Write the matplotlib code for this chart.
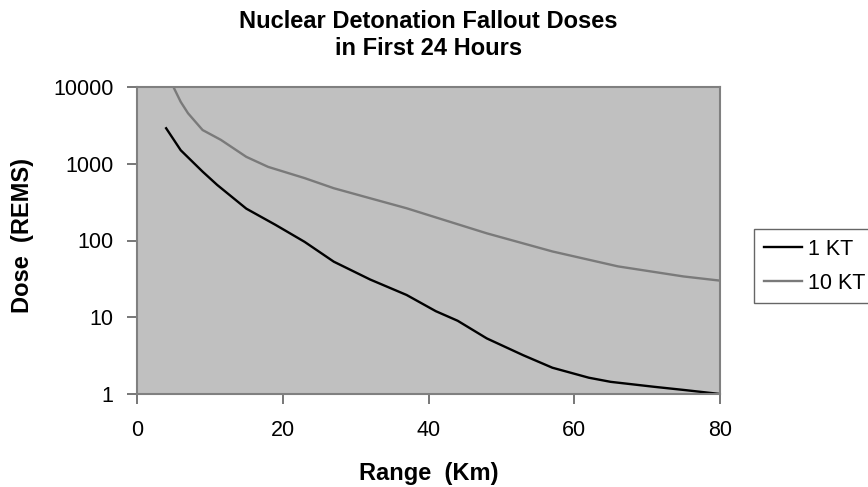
import numpy as np
import matplotlib
matplotlib.use('Agg')
import matplotlib.pyplot as plt

plt.rcParams['font.family'] = ['Liberation Sans', 'DejaVu Sans']

# Range (km) / dose (rems)
kt1_range = [4, 6, 9, 11, 15, 19, 23, 27, 32, 37, 41, 44, 48, 53, 57, 62, 65, 71, 75, 80]
kt1_dose = [2900, 1500, 790, 530, 260, 160, 96, 53, 31, 19.5, 12, 9, 5.3, 3.2, 2.2, 1.63, 1.44, 1.24, 1.13, 1.0]

kt10_range = [5, 6, 7, 9, 11.5, 15, 18, 23, 27, 32, 37, 41, 48, 57, 66, 75, 80]
kt10_dose = [10000, 6400, 4550, 2750, 2050, 1230, 910, 650, 480, 355, 263, 200, 124, 72, 46, 34, 30]

x_ticks = [0, 20, 40, 60, 80]
y_ticks = [1, 10, 100, 1000, 10000]

fig = plt.figure(figsize=(8.68, 4.87), dpi=100)
ax = fig.add_axes([137/868, 1-394/487, 583/868, 307/487])
ax.set_facecolor('#c0c0c0')

ax.plot(kt1_range, kt1_dose, color='black', lw=1.7, label='1 KT')
ax.plot(kt10_range, kt10_dose, color='#7a7a7a', lw=1.7, label='10 KT')

ax.set_yscale('log')
ax.set_xlim(0, 80)
ax.set_ylim(1, 10000)
ax.set_xticks(x_ticks)
ax.set_xticklabels([str(t) for t in x_ticks])
ax.set_yticks(y_ticks)
ax.set_yticklabels([str(t) for t in y_ticks])
ax.minorticks_off()
ax.tick_params(axis='both', direction='out', length=7, width=1.2, color='#606060',
               labelsize=15.5)
ax.tick_params(axis='x', pad=12)
ax.tick_params(axis='y', pad=10)

for s in ax.spines.values():
    s.set_color('#808080')
    s.set_linewidth(1.5)

ax.set_title('Nuclear Detonation Fallout Doses\nin First 24 Hours', fontsize=17,
             fontweight='bold', pad=23, linespacing=1.25)
ax.set_xlabel('Range  (Km)', fontsize=17, fontweight='bold')
ax.xaxis.set_label_coords(0.5, -0.222)
ax.set_ylabel('Dose  (REMS)', fontsize=17, fontweight='bold')
ax.yaxis.set_label_coords(-0.176, 0.516)

leg = fig.legend(loc='upper left', bbox_to_anchor=(754/868, 1-229/487), fontsize=15.5,
                 frameon=True, fancybox=False, handlelength=1.8, handletextpad=0.25,
                 labelspacing=0.6, borderpad=0.45, borderaxespad=0)
leg.get_frame().set_edgecolor('#404040')
leg.get_frame().set_linewidth(1.0)

plt.savefig('out.png', dpi=100)
